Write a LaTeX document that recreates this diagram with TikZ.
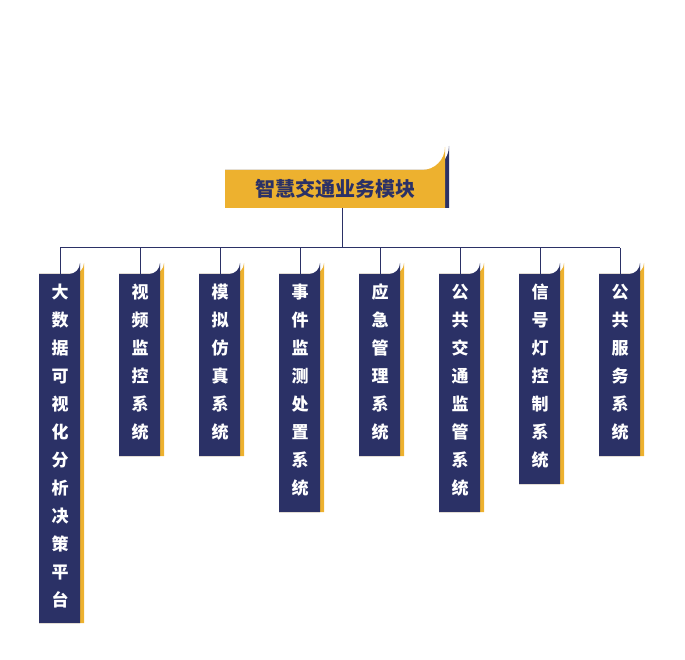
\documentclass[tikz,border=0pt]{standalone}
\usepackage{fontspec}
\setmainfont{Noto Sans CJK SC}
\definecolor{navy}{HTML}{2B3166}
\definecolor{gold}{HTML}{EDB12F}
\tikzset{
  vtext/.style={text=white,font=\fontsize{17}{28}\selectfont\bfseries,align=center,inner sep=0pt,anchor=north},
  bus/.style={draw=navy,line width=1pt}
}
\newcommand{\modbox}[4]{% name, centre x, bottom y, text
  \fill[gold] (#2-21,274) -- (#2+13,274) arc[start angle=90,end angle=0,radius=11] -- (#2+24,#3) -- (#2-21,#3) -- cycle;
  \fill[navy] (#2-21,274) -- (#2+9,274) arc[start angle=90,end angle=0,radius=11] -- (#2+20,#3) -- (#2-21,#3) -- cycle;
  \coordinate (#1) at (#2,274);
  \node[vtext] (#1t) at (#2,284) {#4};
}
\begin{document}
\begin{tikzpicture}[x=1pt,y=-1pt]
\useasboundingbox (0,0) rectangle (685,660);
\fill[navy] (225,170) -- (425,170) arc[start angle=90,end angle=0,radius=24] -- (449,208) -- (225,208) -- cycle;
\fill[gold] (225,170) -- (422,170) arc[start angle=90,end angle=0,radius=23] -- (445,208) -- (225,208) -- cycle;
\node[text=navy,font=\fontsize{20}{24}\selectfont\bfseries,inner sep=0pt] (root) at (335,189) {智慧交通业务模块};
\coordinate (rb) at (342,208);
\coordinate (bus) at (342,248);
\modbox{a}{60}{623}{大\\数\\据\\可\\视\\化\\分\\析\\决\\策\\平\\台}
\modbox{b}{140}{456}{视\\频\\监\\控\\系\\统}
\modbox{c}{220}{456}{模\\拟\\仿\\真\\系\\统}
\modbox{d}{300}{512}{事\\件\\监\\测\\处\\置\\系\\统}
\modbox{e}{380}{456}{应\\急\\管\\理\\系\\统}
\modbox{f}{460}{512}{公\\共\\交\\通\\监\\管\\系\\统}
\modbox{g}{540}{484}{信\\号\\灯\\控\\制\\系\\统}
\modbox{h}{620}{456}{公\\共\\服\\务\\系\\统}
\draw[bus] (rb) -- (bus);
\draw[bus] (a |- bus) -- (h |- bus);
\foreach \n in {a,b,c,d,e,f,g,h} \draw[bus] (\n |- bus) -- (\n);
\end{tikzpicture}
\end{document}
